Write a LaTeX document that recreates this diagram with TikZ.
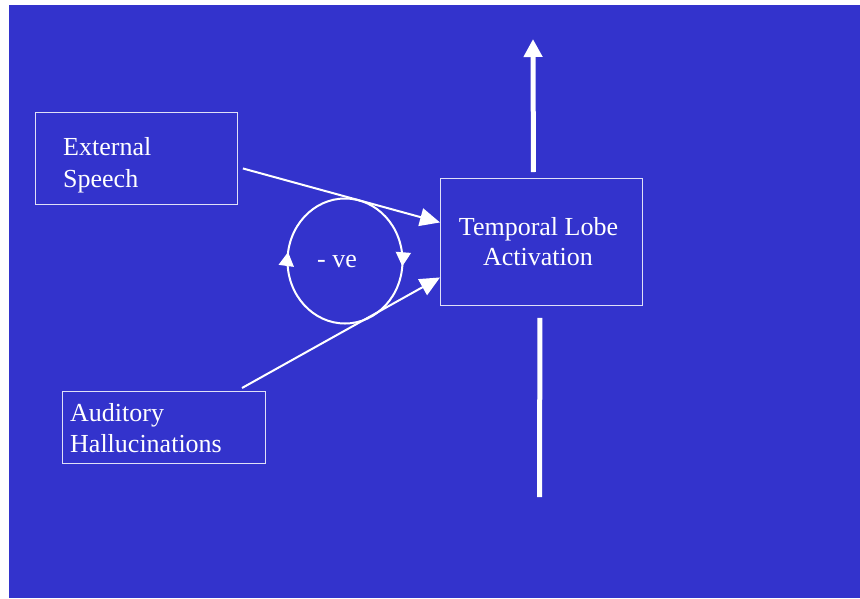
\documentclass[tikz,border=0pt]{standalone}
\usepackage{fontspec}
\setmainfont{Liberation Serif}
\usetikzlibrary{arrows.meta,decorations.markings,calc}
\definecolor{bg}{RGB}{51,51,204}
\begin{document}
\begin{tikzpicture}[x=1pt,y=-1pt,
  box/.style={draw=white!85!bg, line width=0.9pt, inner sep=0pt, anchor=north west},
  txt/.style={text=white, font=\fontsize{26}{31}\selectfont, inner sep=0pt},
  conn/.style={draw=white, line width=2pt, -{Triangle[length=20pt,width=18pt]}},
  loopline/.style={draw=white, line width=2pt, postaction={decorate},
    decoration={markings,
      mark=at position 0.014 with {\arrow{Triangle[length=14pt,width=15pt]}},
      mark=at position 0.524 with {\arrow{Triangle[length=14pt,width=15pt]}}}},
  bar/.style={draw=white, line width=5pt}
  ]
\useasboundingbox (0,0) rectangle (860,598);
\fill[bg] (9,5) rectangle (860,598);
% boxes
\node[box, minimum width=202pt, minimum height=92pt] (es) at (35,112) {};
\node[box, minimum width=203pt, minimum height=72pt] (ah) at (62,391) {};
\node[box, minimum width=202pt, minimum height=127pt] (tl) at (440,178) {};
% texts
\node[txt, anchor=base west] (es1) at (63,155) {External};
\node[txt, anchor=base west] (es2) at (63,187) {Speech};
\node[txt, anchor=base west] (ah1) at (70,421) {Auditory};
\node[txt, anchor=base west] (ah2) at (70,452) {Hallucinations};
\node[txt, anchor=base] (tl1) at (538.5,235) {Temporal Lobe};
\node[txt, anchor=base] (tl2) at (538,265) {Activation};
\node[txt, anchor=base west] (ve) at (317,267) {- ve};
% connectors
\coordinate (s1) at ($(es.east)+(5,10)$);
\draw[conn] (s1) -- ($(tl.west)+(0,-19.5)$);
\coordinate (s2) at ($(ah.north west)+(180,-3)$);
\draw[conn] (s2) -- ($(tl.west)+(0,35.5)$);
% loop
\draw[loopline] (345,261) ellipse [x radius=57.5, y radius=62.5];
% vertical arrow and bar
\coordinate (upbase) at ($(tl.north)+(-8,-6)$);
\coordinate (uptip) at (533,39);
\draw[bar, -{Triangle[length=18pt,width=18pt]}] (upbase) -- (uptip);
\coordinate (dtop) at ($(tl.south)+(-1.5,12)$);
\coordinate (dbot) at (539.5,497);
\draw[bar] (dtop) -- (dbot);
\end{tikzpicture}
\end{document}
